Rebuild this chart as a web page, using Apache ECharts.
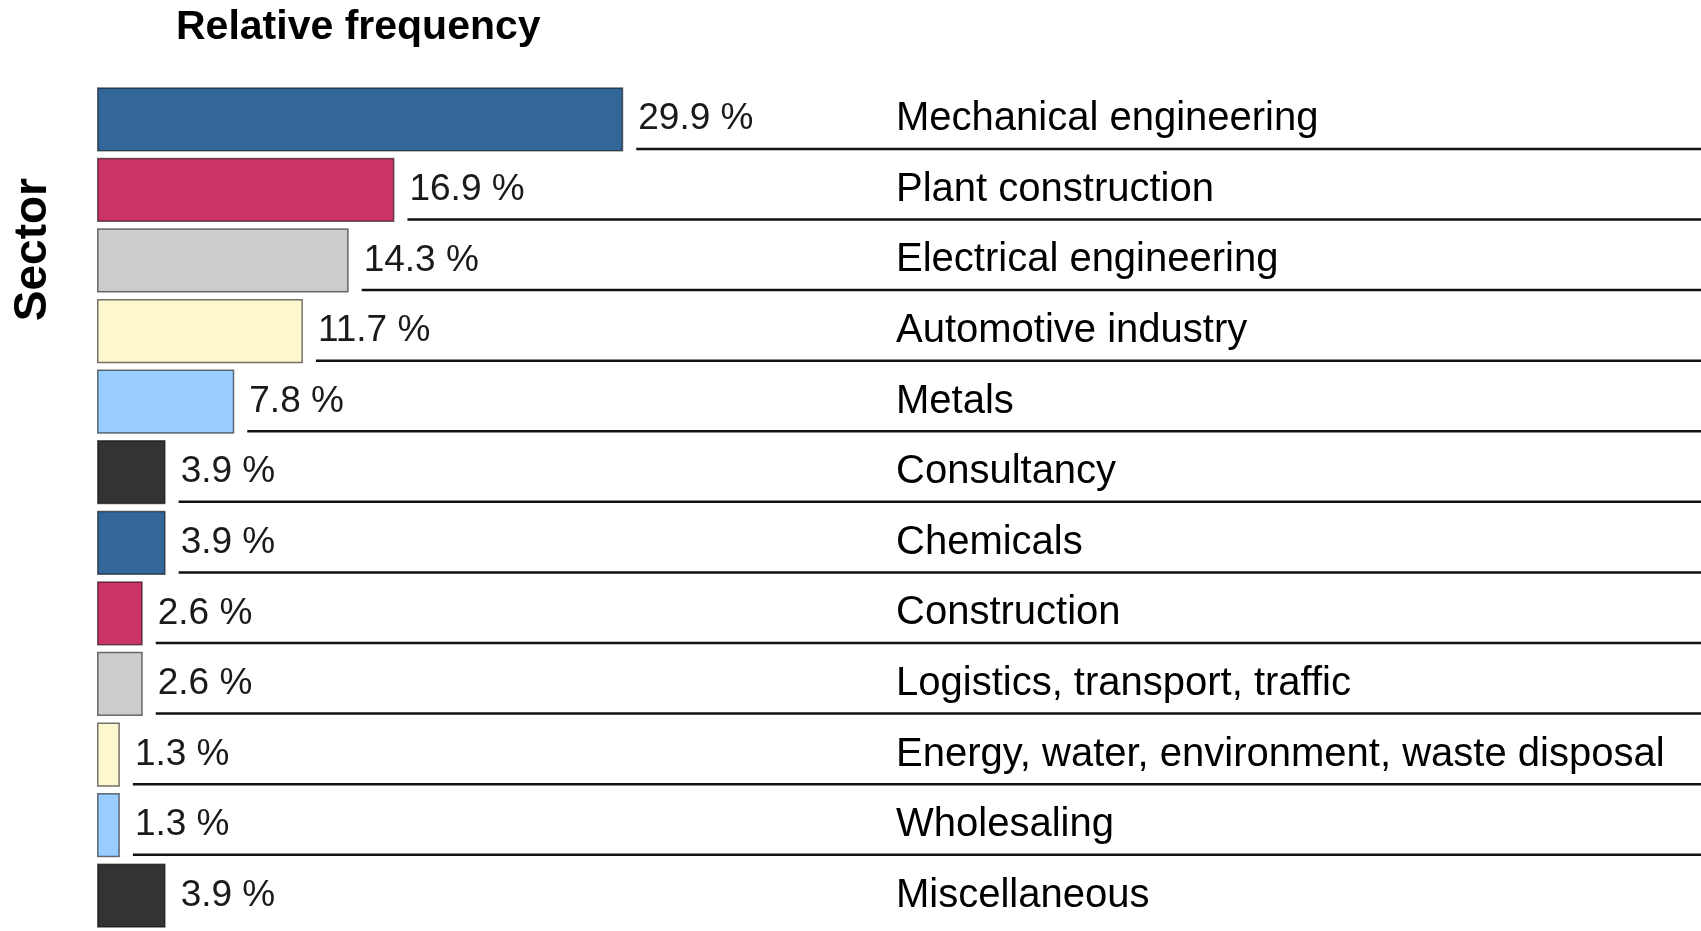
<!DOCTYPE html>
<html>
<head>
<meta charset="utf-8">
<title>Sector</title>
<script src="https://cdn.jsdelivr.net/npm/echarts@6/dist/echarts.min.js"></script>
<style>
  html, body { margin: 0; padding: 0; background: #fff; }
  #chart { width: 1701px; height: 931px; }
</style>
</head>
<body>
<div id="chart"></div>
<script>
// sectors, top to bottom
var sectors = [
  "Mechanical engineering",
  "Plant construction",
  "Electrical engineering",
  "Automotive industry",
  "Metals",
  "Consultancy",
  "Chemicals",
  "Construction",
  "Logistics, transport, traffic",
  "Energy, water, environment, waste disposal",
  "Wholesaling",
  "Miscellaneous"
];
// relative frequency in %
var shares = [29.9, 16.9, 14.3, 11.7, 7.8, 3.9, 3.9, 2.6, 2.6, 1.3, 1.3, 3.9];

var palette = ["#336699", "#cc3366", "#cccccc", "#fdf7cd", "#99ccff", "#333333"];
var font = "'Liberation Sans', Arial, sans-serif";

var chart = echarts.init(document.getElementById("chart"));

// rule under each row except the last one
var rules = [];
for (var i = 0; i < shares.length - 1; i++) {
  rules.push([shares[i], i]);
}

var option = {
  backgroundColor: "#fff",
  animation: false,
  title: {
    text: "Relative frequency",
    left: 171,
    top: 2,
    textStyle: { fontFamily: font, fontSize: 41, fontWeight: "bold", color: "#000" }
  },
  graphic: [
    {
      type: "text",
      left: 10,
      top: 178,
      rotation: Math.PI / 2,
      style: {
        text: "Sector",
        fontFamily: font,
        fontSize: 46,
        fontWeight: "bold",
        fill: "#000"
      }
    }
  ],
  grid: { left: 97, top: 84, width: 1584, bottom: -9 },
  xAxis: {
    type: "value",
    min: 0,
    max: 90,
    show: false
  },
  yAxis: {
    type: "category",
    data: sectors,
    inverse: true,
    axisLine: { show: false },
    axisTick: { show: false },
    splitLine: { show: false },
    axisLabel: {
      inside: true,
      margin: 799,
      fontFamily: font,
      fontSize: 40,
      color: "#000"
    }
  },
  series: [
    {
      type: "bar",
      data: shares,
      barCategoryGap: "9%",
      itemStyle: {
        color: function (p) { return palette[p.dataIndex % palette.length]; },
        borderColor: "rgba(0,0,0,0.55)",
        borderWidth: 1.5
      },
      label: {
        show: true,
        position: "right",
        distance: 15,
        fontFamily: font,
        fontSize: 37,
        color: "#1a1a1a",
        formatter: function (p) { return p.value.toFixed(1) + " %"; }
      }
    },
    {
      type: "custom",
      data: rules,
      silent: true,
      renderItem: function (params, api) {
        var pt = api.coord([api.value(0), api.value(1)]);
        var band = api.size([0, 1])[1];
        var y = pt[1] + band * 0.42;
        return {
          type: "line",
          shape: { x1: pt[0] + 13, y1: y, x2: api.getWidth(), y2: y },
          style: { stroke: "#111", lineWidth: 2.5 }
        };
      }
    }
  ]
};

chart.setOption(option);
</script>
</body>
</html>
